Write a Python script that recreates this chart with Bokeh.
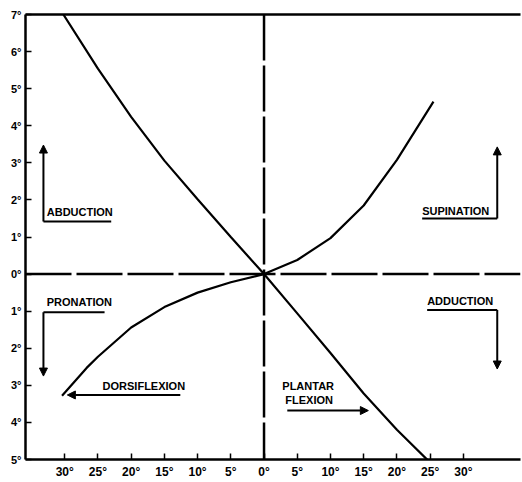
from bokeh.plotting import figure
from bokeh.models import Range1d, FixedTicker, LinearAxis, Span, Label, Arrow, NormalHead
from bokeh.embed import file_html
from bokeh.resources import INLINE

# ---- data ----
# Abduction/adduction vs dorsiflexion/plantar flexion
abd_x = [-30.2, -25, -20, -15, -10, -5, 0, 5, 10, 15, 20, 24.7]
abd_y = [7.0, 5.54, 4.24, 3.06, 2.02, 1.0, 0, -1.06, -2.13, -3.22, -4.2, -5.03]
# Pronation/supination vs dorsiflexion/plantar flexion
sup_x = [-30.4, -26.7, -25, -20, -15, -10, -5, 0, 5, 10, 15, 20, 25.5]
sup_y = [-3.28, -2.53, -2.23, -1.44, -0.89, -0.5, -0.22, 0, 0.38, 0.97, 1.85, 3.08, 4.65]

x_ticks = [-30, -25, -20, -15, -10, -5, 0, 5, 10, 15, 20, 25, 30]
x_tick_labels = ["30°", "25°", "20°", "15°", "10°", "5°", "0°", "5°", "10°", "15°", "20°", "25°", "30°"]
y_ticks = [7, 6, 5, 4, 3, 2, 1, 0, -1, -2, -3, -4, -5]
y_tick_labels = ["7°", "6°", "5°", "4°", "3°", "2°", "1°", "0°", "1°", "2°", "3°", "4°", "5°"]

FONT = "Liberation Sans"

p = figure(width=522, height=481,
           x_range=Range1d(-35.9, 38.6), y_range=Range1d(-5, 7),
           output_backend="svg", toolbar_location=None,
           min_border_left=25, min_border_right=2, min_border_top=14, min_border_bottom=20)
p.outline_line_color = None
p.grid.visible = False
p.background_fill_color = "white"

for ax in (p.xaxis[0], p.yaxis[0]):
    ax.axis_line_width = 2.5
    ax.axis_line_color = "black"
    ax.major_tick_in = 6
    ax.major_tick_out = 0
    ax.major_tick_line_width = 1.5
    ax.major_tick_line_color = "black"
    ax.minor_tick_line_color = None
    ax.major_label_text_font = FONT
    ax.major_label_text_font_style = "bold"
    ax.major_label_text_color = "black"

p.xaxis.ticker = FixedTicker(ticks=x_ticks)
p.xaxis.major_label_overrides = dict(zip(x_ticks, x_tick_labels))
p.xaxis.major_label_text_font_size = "12px"
p.xaxis.major_label_standoff = 5

p.yaxis.ticker = FixedTicker(ticks=y_ticks)
p.yaxis.major_label_overrides = dict(zip(y_ticks, y_tick_labels))
p.yaxis.major_label_text_font_size = "11px"
p.yaxis.major_label_standoff = 4

top = LinearAxis(ticker=FixedTicker(ticks=[]), axis_line_width=2.5, axis_line_color="black",
                 major_tick_in=0, major_tick_out=0, minor_tick_line_color=None,
                 major_label_text_font_size="0px")
p.add_layout(top, "above")

# dashed zero lines
p.add_layout(Span(location=0, dimension="width", line_color="black", line_width=2.5, line_dash="46 5"))
p.add_layout(Span(location=0, dimension="height", line_color="black", line_width=2.5, line_dash="46 5"))

# curves
p.line(abd_x, abd_y, line_color="black", line_width=2.2)
p.line(sup_x, sup_y, line_color="black", line_width=2.2)

# ---- annotations ----
def txt(x, y, s):
    p.add_layout(Label(x=x, y=y, text=s, text_font=FONT, text_font_style="bold",
                       text_font_size="11px", text_color="black", text_baseline="middle"))

def seg(x0, y0, x1, y1):
    p.add_layout(Arrow(x_start=x0, y_start=y0, x_end=x1, y_end=y1, end=None,
                       line_color="black", line_width=2))

def arrow(x0, y0, x1, y1):
    p.add_layout(Arrow(x_start=x0, y_start=y0, x_end=x1, y_end=y1,
                       end=NormalHead(size=8, fill_color="black", line_color="black"),
                       line_color="black", line_width=2))

txt(-32.7, 1.68, "ABDUCTION")
seg(-33.2, 1.42, -23.0, 1.42)
arrow(-33.2, 1.42, -33.2, 3.48)

txt(-32.7, -0.76, "PRONATION")
seg(-33.2, -1.03, -24.0, -1.03)
arrow(-33.2, -1.03, -33.2, -2.75)

txt(-24.3, -3.01, "DORSIFLEXION")
arrow(-12.6, -3.26, -29.6, -3.26)

txt(2.75, -3.01, "PLANTAR")
txt(3.2, -3.39, "FLEXION")
arrow(3.5, -3.68, 15.7, -3.68)

txt(23.8, 1.71, "SUPINATION")
seg(23.8, 1.50, 35.1, 1.50)
arrow(35.1, 1.50, 35.1, 3.43)

txt(24.55, -0.73, "ADDUCTION")
seg(24.55, -0.97, 35.1, -0.97)
arrow(35.1, -0.97, 35.1, -2.56)

open("out.html", "w").write(file_html(p, INLINE))
